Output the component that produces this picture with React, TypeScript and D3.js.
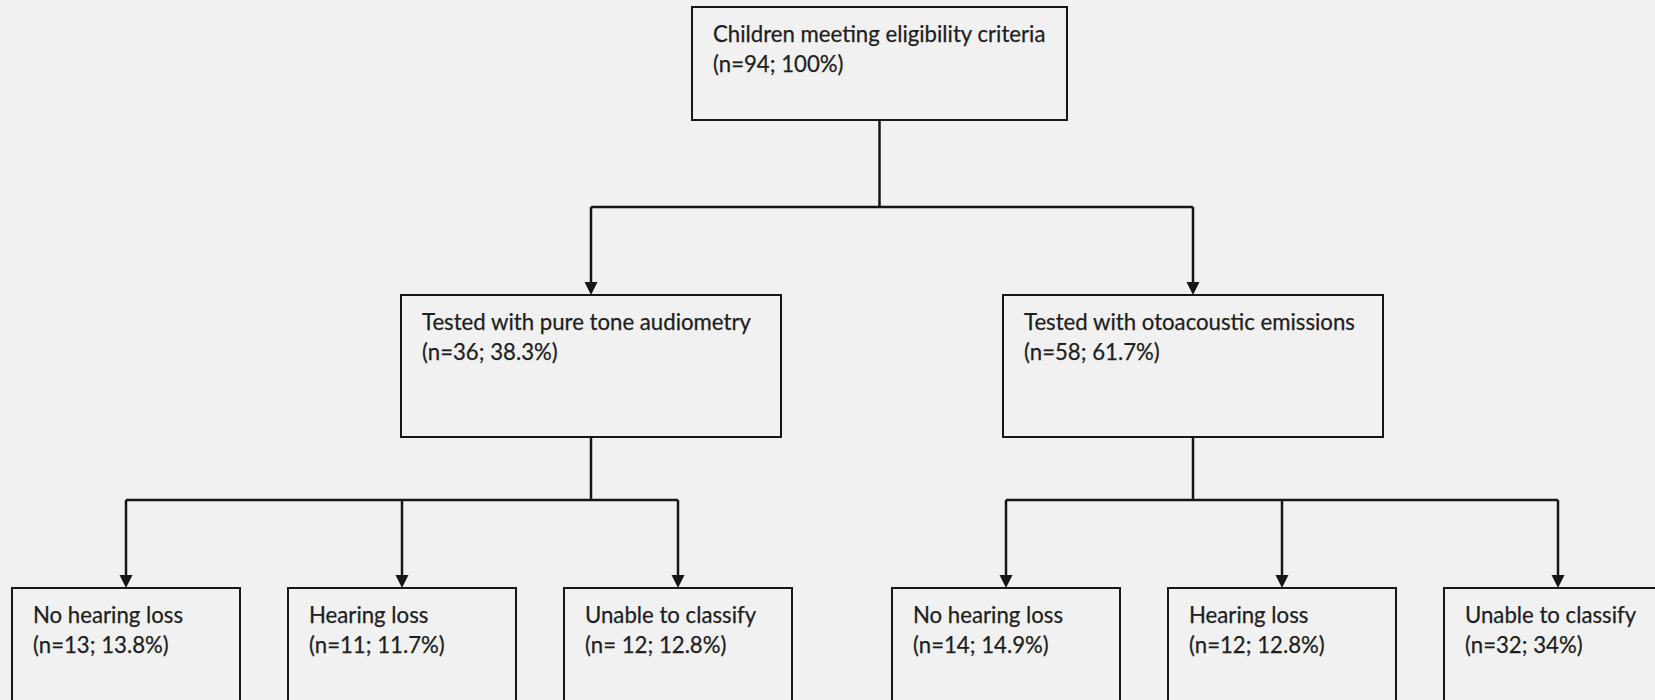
import React, { useEffect, useRef } from 'react';
import * as d3 from 'd3';

// flowchart content
const rootLabel = 'Children meeting eligibility criteria';
const rootCount = '(n=94; 100%)';

const testLabels = ['Tested with pure tone audiometry', 'Tested with otoacoustic emissions'];
const testCounts = ['(n=36; 38.3%)', '(n=58; 61.7%)'];

const outcomeLabels = ['No hearing loss', 'Hearing loss', 'Unable to classify'];
const outcomeCounts = [
  ['(n=13; 13.8%)', '(n=11; 11.7%)', '(n= 12; 12.8%)'],
  ['(n=14; 14.9%)', '(n=12; 12.8%)', '(n=32; 34%)'],
];

const W = 1655;
const H = 700;

const App: React.FC = () => {
  const svgRef = useRef<SVGSVGElement>(null);

  useEffect(() => {
    document.body.style.margin = '0';
    if (!svgRef.current) return;
    const svg = d3.select(svgRef.current);
    svg.selectAll('*').remove();

    const ink = '#161616';
    const font = 'Lato, "Noto Sans", sans-serif';
    const fontSize = 22.2;

    // level tops
    const levelY = d3.scaleOrdinal<string, number>().domain(['root', 'test', 'outcome']).range([7, 295, 588]);
    const busY = [207, 500];

    const rootX = 879.5;
    const rootW = 375, rootH = 113;
    const testW = 380, testH = 142;
    const outW = 228, outH = 142;

    const testX = d3.scalePoint<string>().domain(testLabels).range([591, 1193]);
    const outX = [
      d3.scalePoint<string>().domain(outcomeLabels).range([126, 678]),
      d3.scalePoint<string>().domain(outcomeLabels).range([1006, 1558]),
    ];

    svg.append('rect').attr('width', W).attr('height', H).attr('fill', '#f1f1f1');

    const box = (cx: number, top: number, w: number, h: number, l1: string, l2: string) => {
      const g = svg.append('g');
      g.append('rect')
        .attr('x', cx - w / 2)
        .attr('y', top)
        .attr('width', w)
        .attr('height', h)
        .attr('fill', 'none')
        .attr('stroke', ink)
        .attr('stroke-width', 2);
      [l1, l2].forEach((t, i) => {
        g.append('text')
          .attr('x', cx - w / 2 + 21)
          .attr('y', top + 35 + i * 30)
          .attr('font-family', font)
          .attr('font-size', fontSize)
          .attr('fill', '#1e1e1e')
          .attr('stroke', '#1e1e1e')
          .attr('stroke-width', 0.25)
          .text(t);
      });
    };

    const line = (x1: number, y1: number, x2: number, y2: number) => {
      svg.append('line')
        .attr('x1', x1).attr('y1', y1)
        .attr('x2', x2).attr('y2', y2)
        .attr('stroke', ink)
        .attr('stroke-width', 2.5);
    };

    const arrow = (x: number, y1: number, y2: number) => {
      line(x, y1, x, y2 - 10);
      svg.append('path')
        .attr('d', `M${x - 6.5},${y2 - 13} L${x + 6.5},${y2 - 13} L${x},${y2} Z`)
        .attr('fill', ink);
    };

    // root
    box(rootX, levelY('root'), rootW, rootH, rootLabel, rootCount);
    line(rootX, levelY('root') + rootH, rootX, busY[0]);
    line(testX(testLabels[0])!, busY[0], testX(testLabels[1])!, busY[0]);

    testLabels.forEach((lab, i) => {
      const cx = testX(lab)!;
      arrow(cx, busY[0], levelY('test'));
      box(cx, levelY('test'), testW, testH, lab, testCounts[i]);
      line(cx, levelY('test') + testH, cx, busY[1]);
      const sx = outX[i];
      line(sx(outcomeLabels[0])!, busY[1], sx(outcomeLabels[2])!, busY[1]);
      outcomeLabels.forEach((o, j) => {
        const ox = sx(o)!;
        arrow(ox, busY[1], levelY('outcome'));
        box(ox, levelY('outcome'), outW, outH, o, outcomeCounts[i][j]);
      });
    });
  }, []);

  return <svg ref={svgRef} width={W} height={H} style={{ display: 'block' }} />;
};

export default App;
